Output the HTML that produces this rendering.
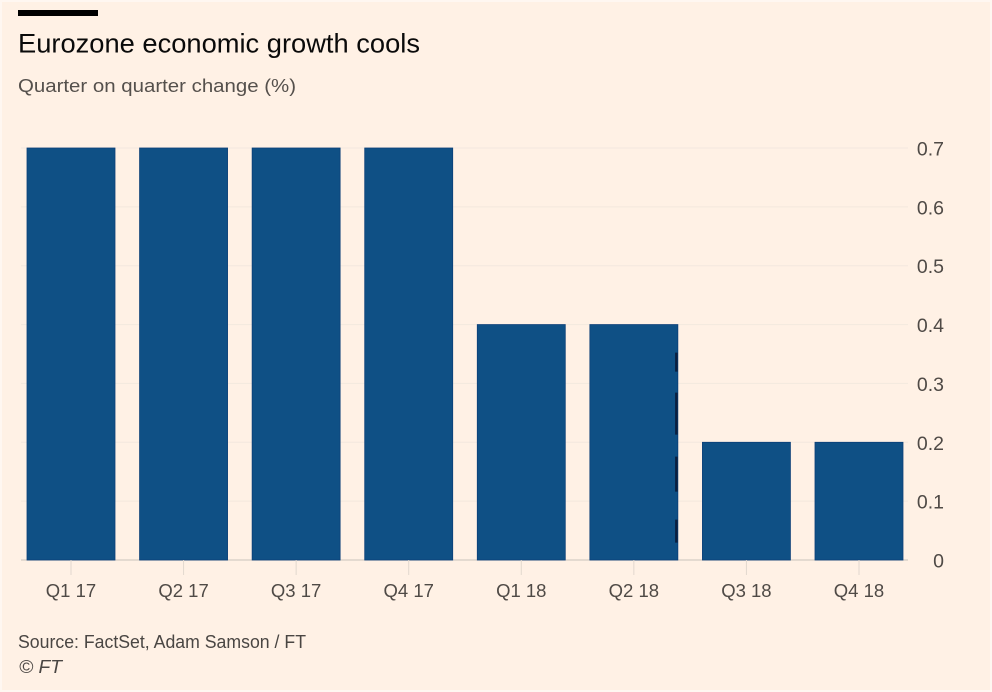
<!DOCTYPE html>
<html lang="en">
<head>
<meta charset="utf-8">
<title>Eurozone economic growth cools</title>
<style>
html,body{margin:0;padding:0;background:#fff;}
svg{display:block;font-family:"Liberation Sans",sans-serif;}
</style>
</head>
<body>
<svg id="chart" width="992" height="692" viewBox="0 0 992 692" xmlns="http://www.w3.org/2000/svg">
  <rect x="0" y="0" width="992" height="692" fill="#fff1e5"/>
  <rect x="1" y="1" width="990" height="690" fill="none" stroke="#fff7f1" stroke-width="2"/>
  <rect x="18" y="10" width="80" height="6" fill="#000"/>
  <text x="18" y="52.5" font-size="26.5" fill="#0a0a0a" textLength="402" lengthAdjust="spacingAndGlyphs">Eurozone economic growth cools</text>
  <text x="18" y="92" font-size="18.5" fill="#55504c" textLength="278" lengthAdjust="spacingAndGlyphs">Quarter on quarter change (%)</text>
  <g id="grid"></g>
  <g id="bars"></g>
  <g id="xaxis"></g>
  <g id="yaxis"></g>
  <text x="18" y="648" font-size="18" fill="#4a4643" textLength="288" lengthAdjust="spacingAndGlyphs">Source: FactSet, Adam Samson / FT</text>
  <text x="19" y="673" font-size="18.5" font-style="italic" fill="#4a4643" textLength="43" lengthAdjust="spacingAndGlyphs">© FT</text>
</svg>
<script>
const categories = ['Q1 17','Q2 17','Q3 17','Q4 17','Q1 18','Q2 18','Q3 18','Q4 18'];
const growthValues = [0.7,0.7,0.7,0.7,0.4,0.4,0.2,0.2];
const tickValues = [0,0.1,0.2,0.3,0.4,0.5,0.6,0.7];
const tickLabels = ['0','0.1','0.2','0.3','0.4','0.5','0.6','0.7'];

const NS = 'http://www.w3.org/2000/svg';
const baseY = 560, topY = 148, maxValue = 0.7;
const firstCenter = 71, step = 112.57, barWidth = 88;
const gridLeft = 21, gridRight = 908;
const darkEdgeBarIndex = 5;
function yScale(v){ return baseY - (v / maxValue) * (baseY - topY); }
function xScale(i){ return firstCenter + i * step; }
function make(tag, attrs, parent){
  const el = document.createElementNS(NS, tag);
  for (const k in attrs) el.setAttribute(k, attrs[k]);
  parent.appendChild(el);
  return el;
}
const gridG = document.getElementById('grid');
const barsG = document.getElementById('bars');
const xG = document.getElementById('xaxis');
const yG = document.getElementById('yaxis');

tickValues.forEach(function(v, i){
  const y = yScale(v);
  const line = make('line', {x1: gridLeft, x2: gridRight, y1: y, y2: y, stroke: v === 0 ? '#dcd2c9' : '#f3e8de', 'stroke-width': v === 0 ? 1.5 : 1}, gridG);
  
  
  const label = make('text', {x: 944, y: y + 7.5, 'text-anchor': 'end', 'font-size': 19.5, fill: '#4f4a46'}, yG);
  label.textContent = tickLabels[i];
  
  
});

categories.forEach(function(c, i){
  const cx = xScale(i);
  const y = yScale(growthValues[i]);
  const bar = make('rect', {x: cx - barWidth / 2, y: y, width: barWidth, height: baseY - y, fill: '#0f5085', stroke: '#0b3f78', 'stroke-width': 0.8}, barsG);
  
  
  if (i === darkEdgeBarIndex) {
    const edge = make('line', {x1: cx + barWidth / 2 - 1.5, x2: cx + barWidth / 2 - 1.5, y1: y, y2: baseY, stroke: '#0a1f3f', 'stroke-width': 2.5, 'stroke-dasharray': '0 28 19 21 42 22 35 28 23 17'}, barsG);
    
    
  }
  const tick = make('line', {x1: cx, x2: cx, y1: baseY, y2: baseY + 15, stroke: '#e2d8ce', 'stroke-width': 1}, xG);
  
  
  const label = make('text', {x: cx, y: baseY + 37, 'text-anchor': 'middle', 'font-size': 18.5, fill: '#4f4a46'}, xG);
  label.textContent = c;
  
  
});
</script>
</body>
</html>
